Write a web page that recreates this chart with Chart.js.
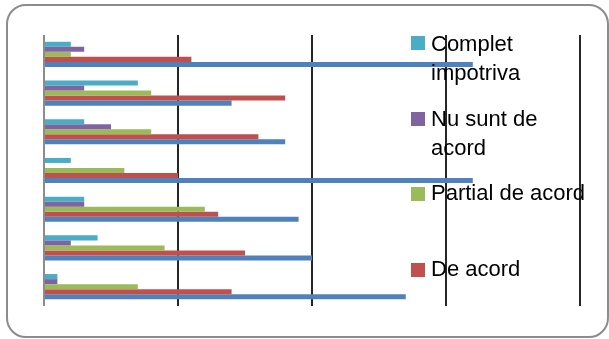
<!DOCTYPE html>
<html>
<head>
<meta charset="utf-8">
<script src="https://cdn.jsdelivr.net/npm/chart.js@4.4.1/dist/chart.umd.min.js"></script>
<style>
    body { margin: 0; background: #fff; }
    #wrap { position: relative; width: 609px; height: 339px; overflow: hidden; }
    #frame {
        position: absolute; left: 6px; top: 4px; width: 603px; height: 334px;
        box-sizing: border-box; border: 2px solid #8c8c8c; border-radius: 20px;
    }
    #chart { position: absolute; left: 0; top: 0; }
    .legend-item { position: absolute; left: 0; top: 0; }
    .legend-box { position: absolute; left: 411px; width: 14px; height: 14px; }
    .legend-text {
        position: absolute; left: 431px;
        font-family: "Liberation Sans", Arial, sans-serif;
        font-size: 22px; line-height: 29px; color: #000; white-space: nowrap;
    }
</style>
</head>
<body>
<div id="wrap">
    <div id="frame"></div>
    <canvas id="chart" width="609" height="339"></canvas>
    <div id="legend"></div>
</div>
<script>
// categorii (nu sunt afisate pe axa)
const categorii = ['Item 1', 'Item 2', 'Item 3', 'Item 4', 'Item 5', 'Item 6', 'Item 7'];

// numar de raspunsuri pe fiecare categorie
const completImpotriva = [2, 7, 3, 2, 3, 4, 1];
const nuSuntDeAcord = [3, 3, 5, 0, 3, 2, 1];
const partialDeAcord = [2, 8, 8, 6, 12, 9, 7];
const deAcord = [11, 18, 16, 10, 13, 15, 14];
const totalDeAcord = [32, 14, 18, 32, 19, 20, 27];

const gridTicks = [0, 10, 20, 30, 40];

const serii = [
    { label: 'Complet impotriva', data: completImpotriva, color: '#4BACC6', text: 'Complet<br>impotriva', box: 36, top: 29 },
    { label: 'Nu sunt de acord', data: nuSuntDeAcord, color: '#8064A2', text: 'Nu sunt de<br>acord', box: 112, top: 104 },
    { label: 'Partial de acord', data: partialDeAcord, color: '#9BBB59', text: 'Partial de acord', box: 187, top: 178 },
    { label: 'De acord', data: deAcord, color: '#C0504D', text: 'De acord', box: 263, top: 254 },
    { label: 'Total de acord', data: totalDeAcord, color: '#4F81BD', text: null }
];

new Chart(document.getElementById('chart'), {
    type: 'bar',
    data: {
        labels: categorii,
        datasets: serii.map(s => ({
            label: s.label,
            data: s.data,
            backgroundColor: s.color,
            borderWidth: 0,
            categoryPercentage: 0.65,
            barPercentage: 1
        }))
    },
    options: {
        indexAxis: 'y',
        responsive: false,
        animation: false,
        layout: { padding: { left: 44, right: 29, top: 35, bottom: 33 } },
        plugins: { legend: { display: false }, tooltip: { enabled: false } },
        scales: {
            x: {
                min: gridTicks[0],
                max: gridTicks[gridTicks.length - 1],
                afterBuildTicks: (scale) => { scale.ticks = gridTicks.map(v => ({ value: v })); },
                ticks: { display: false },
                border: { display: false },
                grid: {
                    drawTicks: false,
                    lineWidth: 2,
                    color: (ctx) => ctx.tick && ctx.tick.value === 0 ? '#8c8c8c' : '#262626'
                }
            },
            y: { display: false }
        }
    }
});

// legenda HTML, peste grafic
const legend = document.getElementById('legend');
serii.filter(s => s.text).forEach(s => {
    const box = document.createElement('div');
    box.className = 'legend-box';
    box.style.top = s.box + 'px';
    box.style.background = s.color;
    legend.appendChild(box);
    const txt = document.createElement('div');
    txt.className = 'legend-text';
    txt.style.top = s.top + 'px';
    txt.innerHTML = s.text;
    legend.appendChild(txt);
});
</script>
</body>
</html>
